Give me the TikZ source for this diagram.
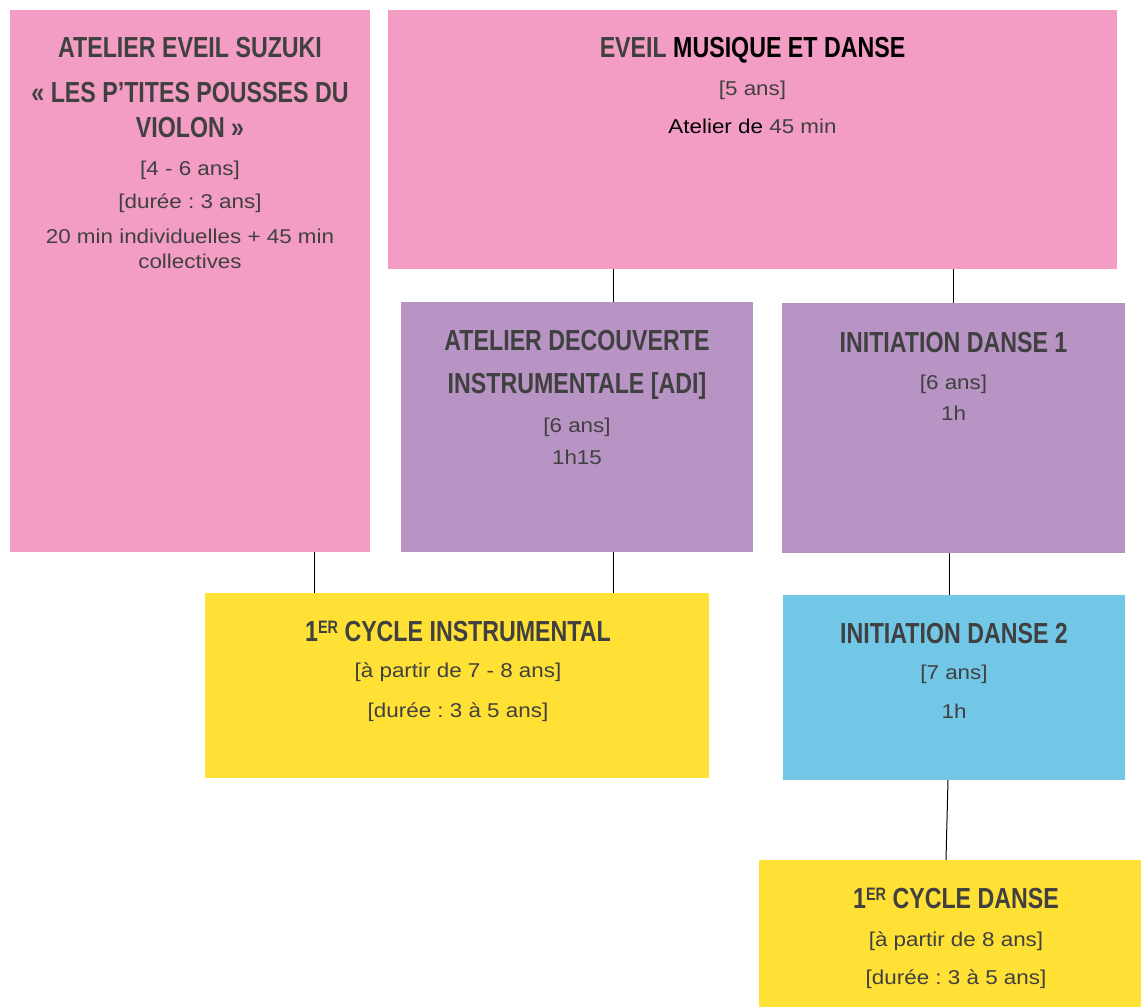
\documentclass[tikz,border=0pt]{standalone}
\usepackage{fontspec}
\setmainfont{Liberation Sans}[FakeStretch=1.12]
\newfontfamily\titlefont{Liberation Sans}[FakeStretch=0.8]
\usetikzlibrary{positioning}
\frenchspacing

\definecolor{pinkbox}{RGB}{243,157,196}
\definecolor{purplebox}{RGB}{183,148,196}
\definecolor{yellowbox}{RGB}{255,224,52}
\definecolor{bluebox}{RGB}{114,199,231}
\definecolor{txtgrey}{RGB}{64,64,64}

\newcommand{\ersup}{\raisebox{7.5pt}{\fontsize{18}{18}\selectfont ER}}

\tikzset{
  box/.style={anchor=north west, inner sep=0pt, outer sep=0pt},
  ttl/.style={anchor=base, inner sep=0pt, text=txtgrey, font=\titlefont\bfseries\fontsize{29}{34}\selectfont},
  txt/.style={anchor=base, inner sep=0pt, text=txtgrey, font=\fontsize{20}{24}\selectfont},
  link/.style={draw=black, line width=1pt}
}

\begin{document}
\begin{tikzpicture}[x=1pt, y=-1pt]
\useasboundingbox (0,0) rectangle (1141,1007);
\clip (0,0) rectangle (1141,1007);
\fill[white] (0,0) rectangle (1141,1007);

% boxes
\node[box, fill=pinkbox, minimum width=360pt, minimum height=542pt] (suzuki) at (10,10) {};
\node[box, fill=pinkbox, minimum width=729pt, minimum height=259pt] (eveil) at (388,10) {};
\node[box, fill=purplebox, minimum width=352pt, minimum height=250pt] (adi) at (401,302) {};
\node[box, fill=purplebox, minimum width=343pt, minimum height=250pt] (init1) at (782,303) {};
\node[box, fill=yellowbox, minimum width=504pt, minimum height=185pt] (cycinst) at (205,593) {};
\node[box, fill=bluebox, minimum width=342pt, minimum height=185pt] (init2) at (783,595) {};
\node[box, fill=yellowbox, minimum width=394pt, minimum height=160pt] (cycdanse) at (759,860) {};

% links
\draw[link] ([xshift=36pt]adi.north) -- ([xshift=36pt]adi.north |- eveil.south);
\draw[link] (init1.north) -- (init1.north |- eveil.south);
\draw[link] ([xshift=124pt]suzuki.south) -- ([xshift=124pt]suzuki.south |- cycinst.north);
\draw[link] ([xshift=36pt]adi.south) -- ([xshift=36pt]adi.south |- cycinst.north);
\draw[link] ([xshift=-4pt]init1.south) -- ([xshift=-4pt]init1.south |- init2.north);
\draw[link] ([xshift=-6pt]init2.south) -- ([xshift=-8pt]init2.south |- cycdanse.north);

% texts suzuki
\node[ttl] (suz-t1) at (190,57) {ATELIER EVEIL SUZUKI};
\node[ttl] (suz-t2) at (190,102) {« LES P’TITES POUSSES DU};
\node[ttl] (suz-t3) at (190,137) {VIOLON »};
\node[txt] (suz-b1) at (190,175) {[4 - 6 ans]};
\node[txt] (suz-b2) at (190,208) {[durée : 3 ans]};
\node[txt] (suz-b3) at (190,243) {20 min individuelles + 45 min};
\node[txt] (suz-b4) at (190,268) {collectives};

% texts eveil
\node[ttl] (ev-t1) at (752.5,57) {EVEIL \textcolor{black}{MUSIQUE ET DANSE}};
\node[txt] (ev-b1) at (752.5,95) {[5 ans]};
\node[txt] (ev-b2) at (752.5,133) {\textcolor{black}{Atelier de} 45 min};

% texts adi
\node[ttl] (adi-t1) at (577,350) {ATELIER DECOUVERTE};
\node[ttl] (adi-t2) at (577,393) {INSTRUMENTALE [ADI]};
\node[txt] (adi-b1) at (577,432) {[6 ans]};
\node[txt] (adi-b2) at (577,464) {1h15};

% texts initiation 1
\node[ttl] (in1-t1) at (953.5,352) {INITIATION DANSE 1};
\node[txt] (in1-b1) at (953.5,389) {[6 ans]};
\node[txt] (in1-b2) at (953.5,420) {1h};

% texts 1er cycle instrumental
\node[ttl] (ci-t1) at (458,641) {1\ersup{} CYCLE INSTRUMENTAL};
\node[txt] (ci-b1) at (458,677) {[à partir de 7 - 8 ans]};
\node[txt] (ci-b2) at (458,717) {[durée : 3 à 5 ans]};

% texts initiation 2
\node[ttl] (in2-t1) at (954,643) {INITIATION DANSE 2};
\node[txt] (in2-b1) at (954,679) {[7 ans]};
\node[txt] (in2-b2) at (954,718) {1h};

% texts 1er cycle danse
\node[ttl] (cd-t1) at (956,908) {1\ersup{} CYCLE DANSE};
\node[txt] (cd-b1) at (956,946) {[à partir de 8 ans]};
\node[txt] (cd-b2) at (956,984) {[durée : 3 à 5 ans]};
\end{tikzpicture}
\end{document}
